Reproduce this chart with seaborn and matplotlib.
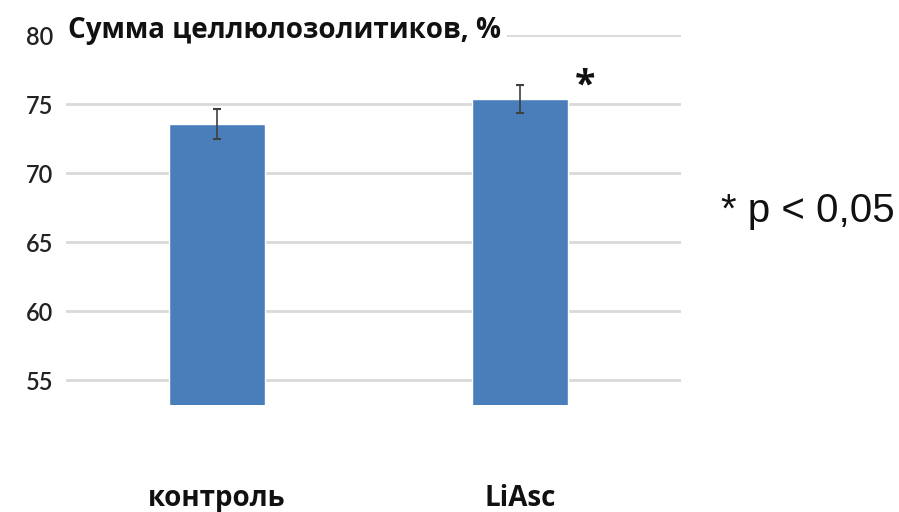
import matplotlib
matplotlib.use("Agg")
import matplotlib.pyplot as plt
import seaborn as sns
import pandas as pd

categories = ["контроль", "LiAsc"]
values = [73.55, 75.35]
errors = [1.1, 1.0]
yticks = [55, 60, 65, 70, 75, 80]
title = "Сумма целлюлозолитиков, %"
note = "* p < 0,05"

sns.set_theme(style="white")
plt.rcParams['font.family'] = ['Open Sans', 'DejaVu Sans']

fig = plt.figure(figsize=(8.99, 5.12), dpi=100)
ax = fig.add_axes([65.5 / 899, 0.209, 615 / 899, 0.7224])

df = pd.DataFrame({"cat": categories, "val": values})
sns.barplot(data=df, x="cat", y="val", color="#4a7ebb", saturation=1, width=0.315,
            errorbar=None, ax=ax, zorder=3)
ax.errorbar(range(len(categories)), values, yerr=errors, fmt="none",
            ecolor="#404040", elinewidth=1.2, capsize=3, capthick=1.5, zorder=4)

ax.set_ylim(53.2, 80)
ax.set_xlim(-0.5, 615 / 303 - 0.5)
ax.set_yticks(yticks)
ax.set_yticklabels([str(t) for t in yticks],
                   fontdict={"family": ["Lato", "DejaVu Sans"], "size": 17, "weight": "semibold"})
ax.yaxis.grid(True, color="#d9d9d9", linewidth=2, zorder=0)
ax.set_axisbelow(True)
for s in ax.spines.values():
    s.set_visible(False)
ax.set_xlabel("")
ax.set_ylabel("")
ax.tick_params(axis="y", length=0, pad=9, colors="#222222")
ax.tick_params(axis="x", length=0, pad=57)
for lbl in ax.get_xticklabels():
    lbl.set_fontsize(20)
    lbl.set_fontweight("bold")
    lbl.set_color("#111111")

ax.text(0.004, 80.3, title, transform=ax.get_yaxis_transform(), fontsize=20,
        fontweight="bold", color="#111111", va="center", ha="left",
        bbox=dict(facecolor="white", edgecolor="none", pad=4), zorder=5)
ax.text(1.214, 76.3, "*", fontsize=27, fontweight="bold", color="#111111",
        ha="center", va="center")
fig.text(721 / 899, 0.588, note, fontsize=29, family=["Liberation Sans", "DejaVu Sans"],
         color="#111111", ha="left", va="center")

fig.savefig("out.png", dpi=100)
